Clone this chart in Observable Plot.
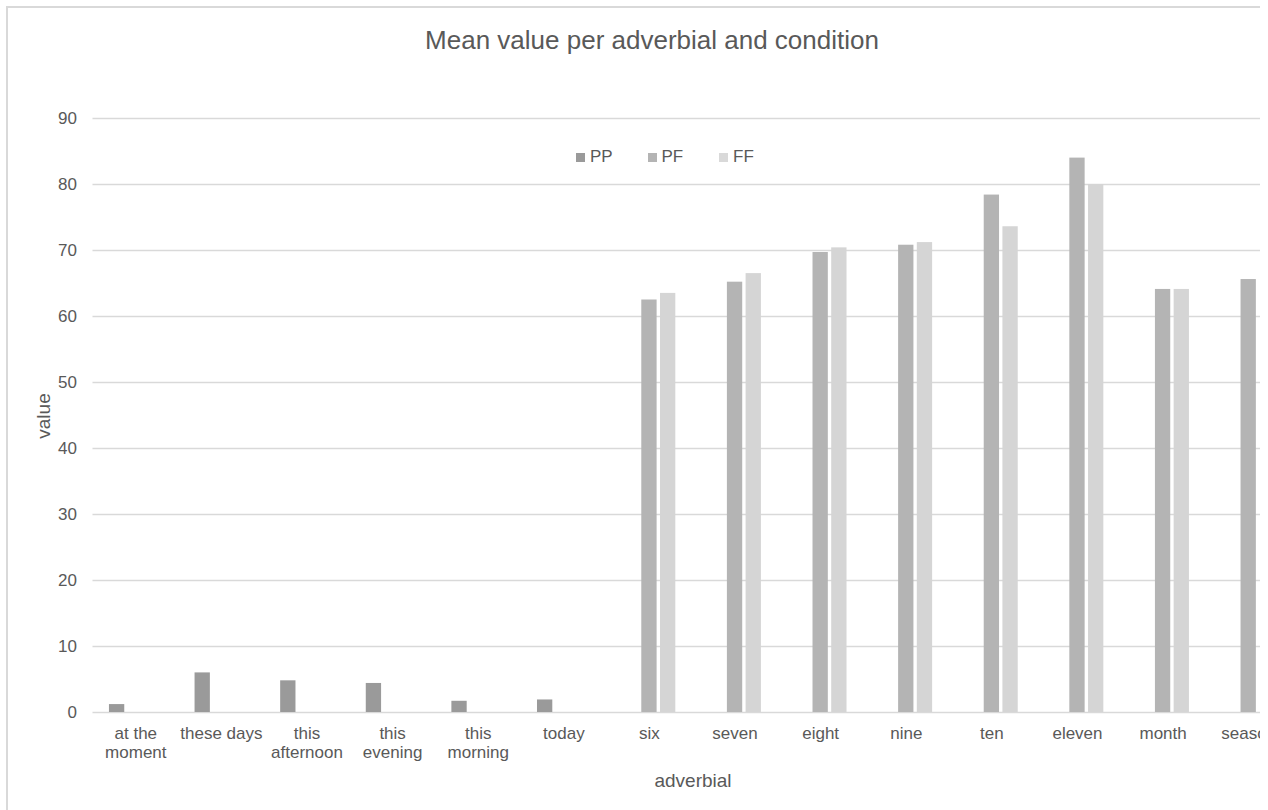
<!DOCTYPE html>
<html>
<head>
<meta charset="utf-8">
<script src="https://cdn.jsdelivr.net/npm/d3@7"></script>
<script src="https://cdn.jsdelivr.net/npm/@observablehq/plot@0.6"></script>
<style>
  html, body { margin: 0; padding: 0; background: #fff; overflow: hidden; }
  #wrap { position: absolute; left: 0; top: 0; width: 1260px; height: 810px; overflow: hidden; background: #fff;
          font-family: "Liberation Sans", Arial, sans-serif; color: #595959; }
  #frame { position: absolute; left: 6px; top: 6px; width: 2000px; height: 2000px;
           border-left: 2px solid #d9d9d9; border-top: 2px solid #d9d9d9; }
  #chart { position: absolute; left: 0; top: 0; width: 1300px; height: 810px; }
  #chart svg { max-width: none !important; display: block; }
  #title { position: absolute; left: 652px; top: 26px; transform: translateX(-50%); font-size: 26px; line-height: 29px; white-space: nowrap; }
  #ytitle { position: absolute; left: 44px; top: 416px; transform: translate(-50%, -50%) rotate(-90deg); font-size: 19px; line-height: 22px; white-space: nowrap; }
  #xtitle { position: absolute; left: 693px; top: 770px; transform: translateX(-50%); font-size: 19px; line-height: 22px; white-space: nowrap; }
  #legend { position: absolute; left: 576px; top: 147px; display: flex; font-size: 17px; line-height: 20px; }
  .item { width: 71.5px; display: flex; align-items: center; }
  .sw { width: 9px; height: 9px; margin-right: 5px; }
</style>
</head>
<body>
<div id="wrap">
  <div id="frame"></div>
  <div id="chart"></div>
  <div id="title">Mean value per adverbial and condition</div>
  <div id="legend"></div>
  <div id="ytitle">value</div>
  <div id="xtitle">adverbial</div>
</div>
<script>
// ---- data ----
const categories = ["at the moment", "these days", "this afternoon", "this evening", "this morning", "today",
  "six", "seven", "eight", "nine", "ten", "eleven", "month", "season"];
const xTickLabels = ["at the\nmoment", "these days", "this\nafternoon", "this\nevening", "this\nmorning", "today",
  "six", "seven", "eight", "nine", "ten", "eleven", "month", "season"];
const seriesNames = ["PP", "PF", "FF"];
const ppValues = [1.2, 6.0, 4.8, 4.4, 1.7, 1.9, null, null, null, null, null, null, null, null];
const pfValues = [null, null, null, null, null, null, 62.5, 65.2, 69.7, 70.8, 78.4, 84.0, 64.1, 65.6];
const ffValues = [null, null, null, null, null, null, 63.5, 66.5, 70.4, 71.2, 73.6, 80.0, 64.1, null];
const yTicks = [0, 10, 20, 30, 40, 50, 60, 70, 80, 90];

// ---- styles ----
const seriesColors = ["#9a9a9a", "#b4b4b4", "#d5d5d5"];
const legendColors = ["#9a9a9a", "#b4b4b4", "#d9d9d9"];
const seriesDx = [-18.7, 0, 18.7];
const barInset = 35.15;

const seriesValues = [ppValues, pfValues, ffValues];
const rows = [];
categories.forEach((c, i) => {
  seriesNames.forEach((s, k) => {
    const v = seriesValues[k][i];
    if (v != null) rows.push({category: c, series: s, value: v});
  });
});

const labelOf = new Map(categories.map((c, i) => [c, xTickLabels[i]]));

const chart = Plot.plot({
  width: 1300,
  height: 810,
  marginTop: 118,
  marginBottom: 98,
  marginLeft: 92.5,
  marginRight: 9,
  style: {fontFamily: "'Liberation Sans', Arial, sans-serif", fontSize: "17px", color: "#595959", background: "transparent", maxWidth: "none"},
  x: {domain: categories, padding: 0, round: false},
  y: {domain: [0, 90]},
  marks: [
    Plot.ruleY(yTicks, {stroke: "#d9d9d9", strokeWidth: 1.5}),
    ...seriesNames.map((s, k) => Plot.barY(rows.filter(r => r.series === s), {
      x: "category", y: "value", fill: seriesColors[k], dx: seriesDx[k],
      insetLeft: barInset, insetRight: barInset
    })),
    Plot.axisY(yTicks, {tickSize: 0, tickPadding: 16, label: null, fontSize: 17}),
    Plot.axisX({tickSize: 0, tickPadding: 13, label: null, fontSize: 17, lineHeight: 1.13,
      tickFormat: d => labelOf.get(d)})
  ]
});
document.getElementById("chart").appendChild(chart);

// legend
const legend = document.getElementById("legend");
seriesNames.forEach((s, k) => {
  const item = document.createElement("div");
  item.className = "item";
  const sw = document.createElement("span");
  sw.className = "sw";
  sw.style.background = legendColors[k];
  const t = document.createElement("span");
  t.textContent = s;
  item.appendChild(sw);
  item.appendChild(t);
  legend.appendChild(item);
});
</script>
</body>
</html>
